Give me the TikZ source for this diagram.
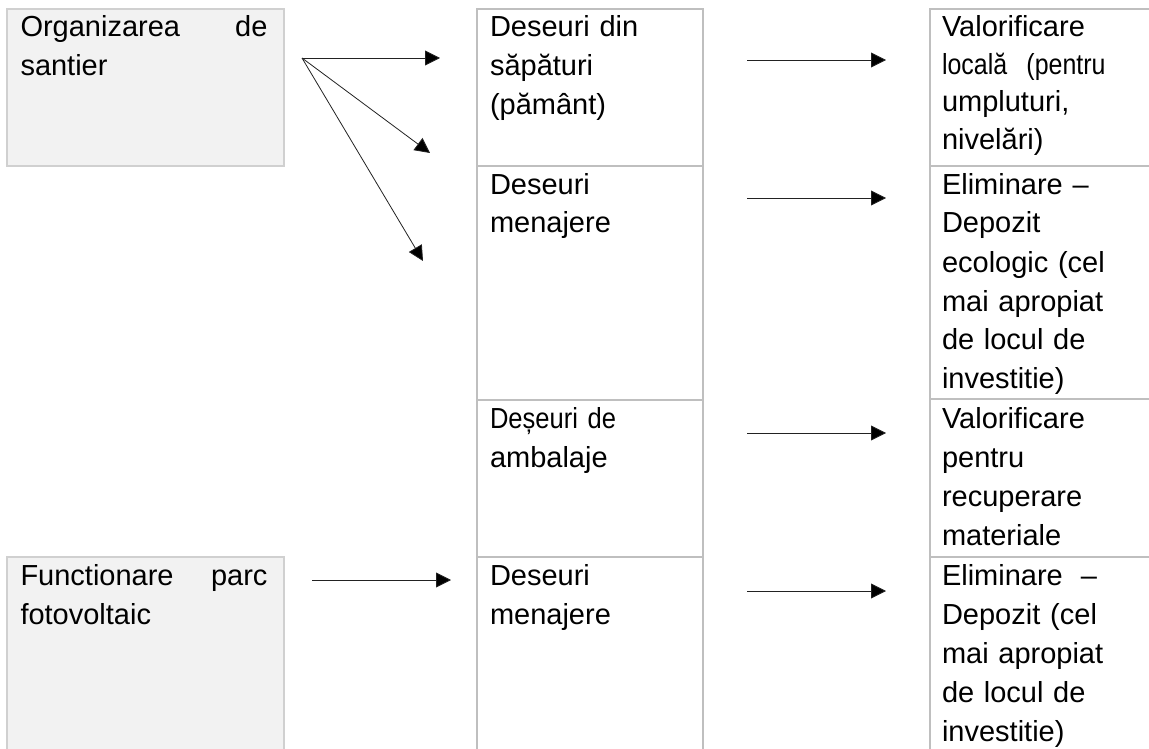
\documentclass[tikz,border=0pt]{standalone}
\usepackage{fontspec}
\setmainfont{Liberation Sans}
\newfontfamily\narrowA[FakeStretch=0.88]{Liberation Sans}
\newfontfamily\narrowB[FakeStretch=0.86]{Liberation Sans}
\usetikzlibrary{arrows.meta}
\definecolor{boxline}{HTML}{BFBFBF}
\definecolor{srcline}{HTML}{D0D0D0}
\definecolor{srcfill}{HTML}{F2F2F2}
\definecolor{arrowcol}{HTML}{222222}
\begin{document}
\begin{tikzpicture}[x=1pt,y=-1pt,
  srcbox/.style={draw=srcline, fill=srcfill, line width=1.2pt, rectangle, anchor=north west, inner sep=0pt, outer sep=0pt},
  cellbox/.style={draw=boxline, line width=1.4pt, rectangle, anchor=north west, inner sep=0pt, outer sep=0pt},
  txt/.style={anchor=base west, inner sep=0pt, outer sep=0pt, align=left, text width=220pt, font=\fontsize{29}{39}\selectfont},
  flow/.style={draw=arrowcol, line width=0.8pt, -{Triangle[length=15pt,width=15pt,fill=black]}}]
\useasboundingbox (0,0) rectangle (1149,749);
% source boxes
\node[srcbox, minimum width=277pt, minimum height=157pt] (s1) at (7,9) {};
\node[srcbox, minimum width=277pt, minimum height=210pt] (s2) at (7,557) {};
% middle column
\node[cellbox, minimum width=226pt, minimum height=157pt] (m1) at (477,9) {};
\node[cellbox, minimum width=226pt, minimum height=234pt] (m2) at (477,166) {};
\node[cellbox, minimum width=226pt, minimum height=157pt] (m3) at (477,400) {};
\node[cellbox, minimum width=226pt, minimum height=210pt] (m4) at (477,557) {};
% right column
\node[cellbox, minimum width=240pt, minimum height=157pt] (r1) at (930,9) {};
\node[cellbox, minimum width=240pt, minimum height=233pt] (r2) at (930,166) {};
\node[cellbox, minimum width=240pt, minimum height=158pt] (r3) at (930,399) {};
\node[cellbox, minimum width=240pt, minimum height=210pt] (r4) at (930,557) {};
% texts
\node[txt] (ts1) at (20.5,37) {\makebox[247pt][s]{Organizarea\hfill de}\\santier};
\node[txt] (ts2) at (20.5,585) {\makebox[247pt][s]{Functionare\hfill parc}\\fotovoltaic};
\node[txt] (tm1) at (490,37) {Deseuri din\\săpături\\(pământ)};
\node[txt] (tm2) at (490,194) {Deseuri\\menajere};
\node[txt] (tm3) at (490,428) {{\narrowA Deșeuri de}\\ambalaje};
\node[txt] (tm4) at (490,585) {Deseuri\\menajere};
\node[txt] (tr1) at (942,37) {Valorificare\\[-1.5pt]{\narrowB locală\ \ (pentru}\\[-1.5pt]umpluturi,\\[-1.5pt]nivelări)};
\node[txt] (tr2) at (942,194) {Eliminare –\\Depozit\\ecologic (cel\\mai apropiat\\de locul de\\investitie)};
\node[txt] (tr3) at (942,428) {Valorificare\\pentru\\recuperare\\materiale};
\node[txt] (tr4) at (942,585) {\makebox[155pt][s]{Eliminare\hfill –}\\\makebox[155pt][s]{Depozit\hfill (cel}\\mai apropiat\\de locul de\\investitie)};
% arrow end points
\coordinate (o1) at (302,58);
\coordinate (e1) at (440,58);
\coordinate (e2) at (430,153);
\coordinate (e3) at (423,261);
\coordinate (o2) at (312,580);
\coordinate (e4) at (451,580);
\coordinate (p1) at (747,60);  \coordinate (q1) at (886,60);
\coordinate (p2) at (747,198); \coordinate (q2) at (886,198);
\coordinate (p3) at (747,433); \coordinate (q3) at (886,433);
\coordinate (p4) at (747,591); \coordinate (q4) at (886,591);
% arrows
\draw[flow] (o1) -- (e1);
\draw[flow] (o1) -- (e2);
\draw[flow] (o1) -- (e3);
\draw[flow] (o2) -- (e4);
\draw[flow] (p1) -- (q1);
\draw[flow] (p2) -- (q2);
\draw[flow] (p3) -- (q3);
\draw[flow] (p4) -- (q4);
\end{tikzpicture}
\end{document}
